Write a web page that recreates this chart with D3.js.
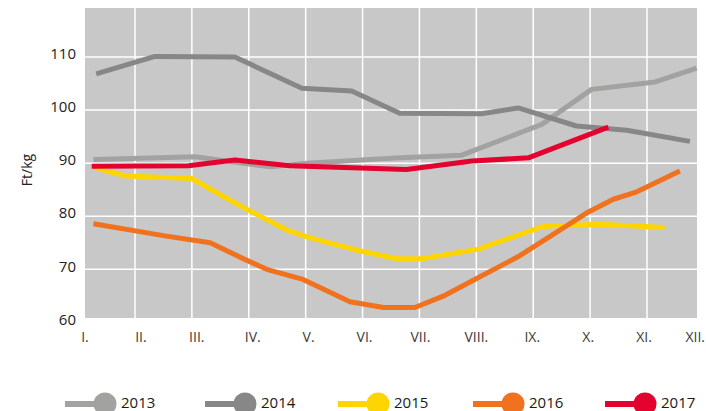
<!DOCTYPE html>
<html>
<head>
<meta charset="utf-8">
<script src="https://d3js.org/d3.v7.min.js"></script>
<style>
  body { margin: 0; background: #fff; }
  text { font-family: "Open Sans", sans-serif; }
</style>
</head>
<body>
<svg width="706" height="411"></svg>
<script>
// months on the x axis
var months = ["I.", "II.", "III.", "IV.", "V.", "VI.", "VII.", "VIII.", "IX.", "X.", "XI.", "XII."];
var yTicks = [60, 70, 80, 90, 100, 110];
var years = ["2013", "2014", "2015", "2016", "2017"];

// [month position, Ft/kg]
var s2013 = [[1.15, 90.7], [2.97, 91.2], [4.31, 89.3], [4.97, 90.0], [6.63, 91.0], [7.74, 91.5],
             [9.17, 97.3], [10.06, 103.9], [11.2, 105.3], [11.94, 107.9]];
var s2014 = [[1.2, 106.8], [2.25, 110.1], [3.68, 110.0], [4.88, 104.1], [5.77, 103.6], [6.63, 99.4],
             [8.09, 99.3], [8.75, 100.4], [9.79, 97.0], [10.69, 96.2], [11.82, 94.1]];
var s2015 = [[1.12, 89.3], [1.72, 87.6], [2.91, 87.1], [3.77, 82.0], [4.61, 77.4], [4.97, 76.1],
             [5.86, 73.6], [6.58, 72.0], [7.02, 72.0], [8.03, 73.8], [9.17, 78.0], [9.41, 78.2],
             [10.21, 78.5], [11.37, 77.9]];
var s2016 = [[1.15, 78.6], [2.43, 76.3], [3.24, 75.0], [3.77, 72.3], [4.25, 70.0], [4.9, 68.1],
             [5.74, 63.9], [6.34, 62.8], [6.9, 62.8], [7.44, 65.1], [8.03, 68.4], [8.75, 72.4],
             [9.41, 76.8], [9.97, 80.6], [10.45, 83.2], [10.87, 84.6], [11.64, 88.5]];
var s2017 = [[1.12, 89.4], [2.85, 89.5], [3.68, 90.6], [4.67, 89.5], [6.75, 88.8], [7.92, 90.4],
             [8.93, 91.0], [10.36, 96.8]];

var series = [s2013, s2014, s2015, s2016, s2017];
var colors = ["#a2a2a1", "#878787", "#ffd500", "#f0711e", "#e3032e"];

var svg = d3.select("svg");
var plot = { left: 85, right: 697, top: 8, bottom: 318 };

var x = d3.scaleLinear().domain([1, 12]).range([85, 700]);
var gridX = d3.scaleLinear().domain([2, 11]).range([135, 647]);
var y = d3.scaleLinear().domain([60, 120]).range([322.4, 3.9]);

svg.append("rect")
    .attr("x", plot.left).attr("y", plot.top)
    .attr("width", plot.right - plot.left).attr("height", plot.bottom - plot.top)
    .attr("fill", "#c8c8c8");

// grid
svg.append("g").selectAll("line")
    .data(d3.range(2, 12))
    .enter().append("line")
    .attr("x1", function(d) { return gridX(d); })
    .attr("x2", function(d) { return gridX(d); })
    .attr("y1", plot.top).attr("y2", plot.bottom)
    .attr("stroke", "#fff").attr("stroke-width", 1.5);

svg.append("g").selectAll("line")
    .data(yTicks.slice(1))
    .enter().append("line")
    .attr("x1", plot.left).attr("x2", plot.right)
    .attr("y1", function(d) { return y(d); })
    .attr("y2", function(d) { return y(d); })
    .attr("stroke", "#fff").attr("stroke-width", 1.5);

// y labels
svg.append("g").selectAll("text")
    .data(yTicks)
    .enter().append("text")
    .attr("x", 76)
    .attr("y", function(d) { return y(d) - 3; })
    .attr("dy", "0.35em")
    .attr("text-anchor", "end")
    .attr("font-size", 15)
    .attr("fill", "#222")
    .text(function(d) { return d; });

svg.append("text")
    .attr("transform", "translate(32,170) rotate(-90)")
    .attr("text-anchor", "middle")
    .attr("font-size", 14)
    .attr("fill", "#222")
    .text("Ft/kg");

// month labels (last one kept inside the frame)
svg.append("g").selectAll("text")
    .data(months)
    .enter().append("text")
    .attr("x", function(d, i) { return i === 11 ? 705 : x(i + 1); })
    .attr("y", 342)
    .attr("text-anchor", function(d, i) { return i === 11 ? "end" : "middle"; })
    .attr("font-size", 14)
    .attr("fill", "#3a3a3a")
    .text(function(d) { return d; });

// lines
var line = d3.line()
    .x(function(d) { return x(d[0]); })
    .y(function(d) { return y(d[1]); });

svg.append("g").selectAll("path")
    .data(series)
    .enter().append("path")
    .attr("d", line)
    .attr("fill", "none")
    .attr("stroke", function(d, i) { return colors[i]; })
    .attr("stroke-width", 5)
    .attr("stroke-linejoin", "round");

// legend
var legendX = [105, 245, 378, 513, 645];
var legend = svg.append("g").selectAll("g")
    .data(years)
    .enter().append("g")
    .attr("transform", function(d, i) { return "translate(" + legendX[i] + ",404)"; });

legend.append("line")
    .attr("x1", -40).attr("x2", 0)
    .attr("stroke", function(d, i) { return colors[i]; })
    .attr("stroke-width", 6);

legend.append("circle")
    .attr("r", 11.5)
    .attr("fill", function(d, i) { return colors[i]; });

legend.append("text")
    .attr("x", 16)
    .attr("y", 4)
    .attr("font-size", 15)
    .attr("fill", "#1a1a1a")
    .text(function(d) { return d; });
</script>
</body>
</html>
